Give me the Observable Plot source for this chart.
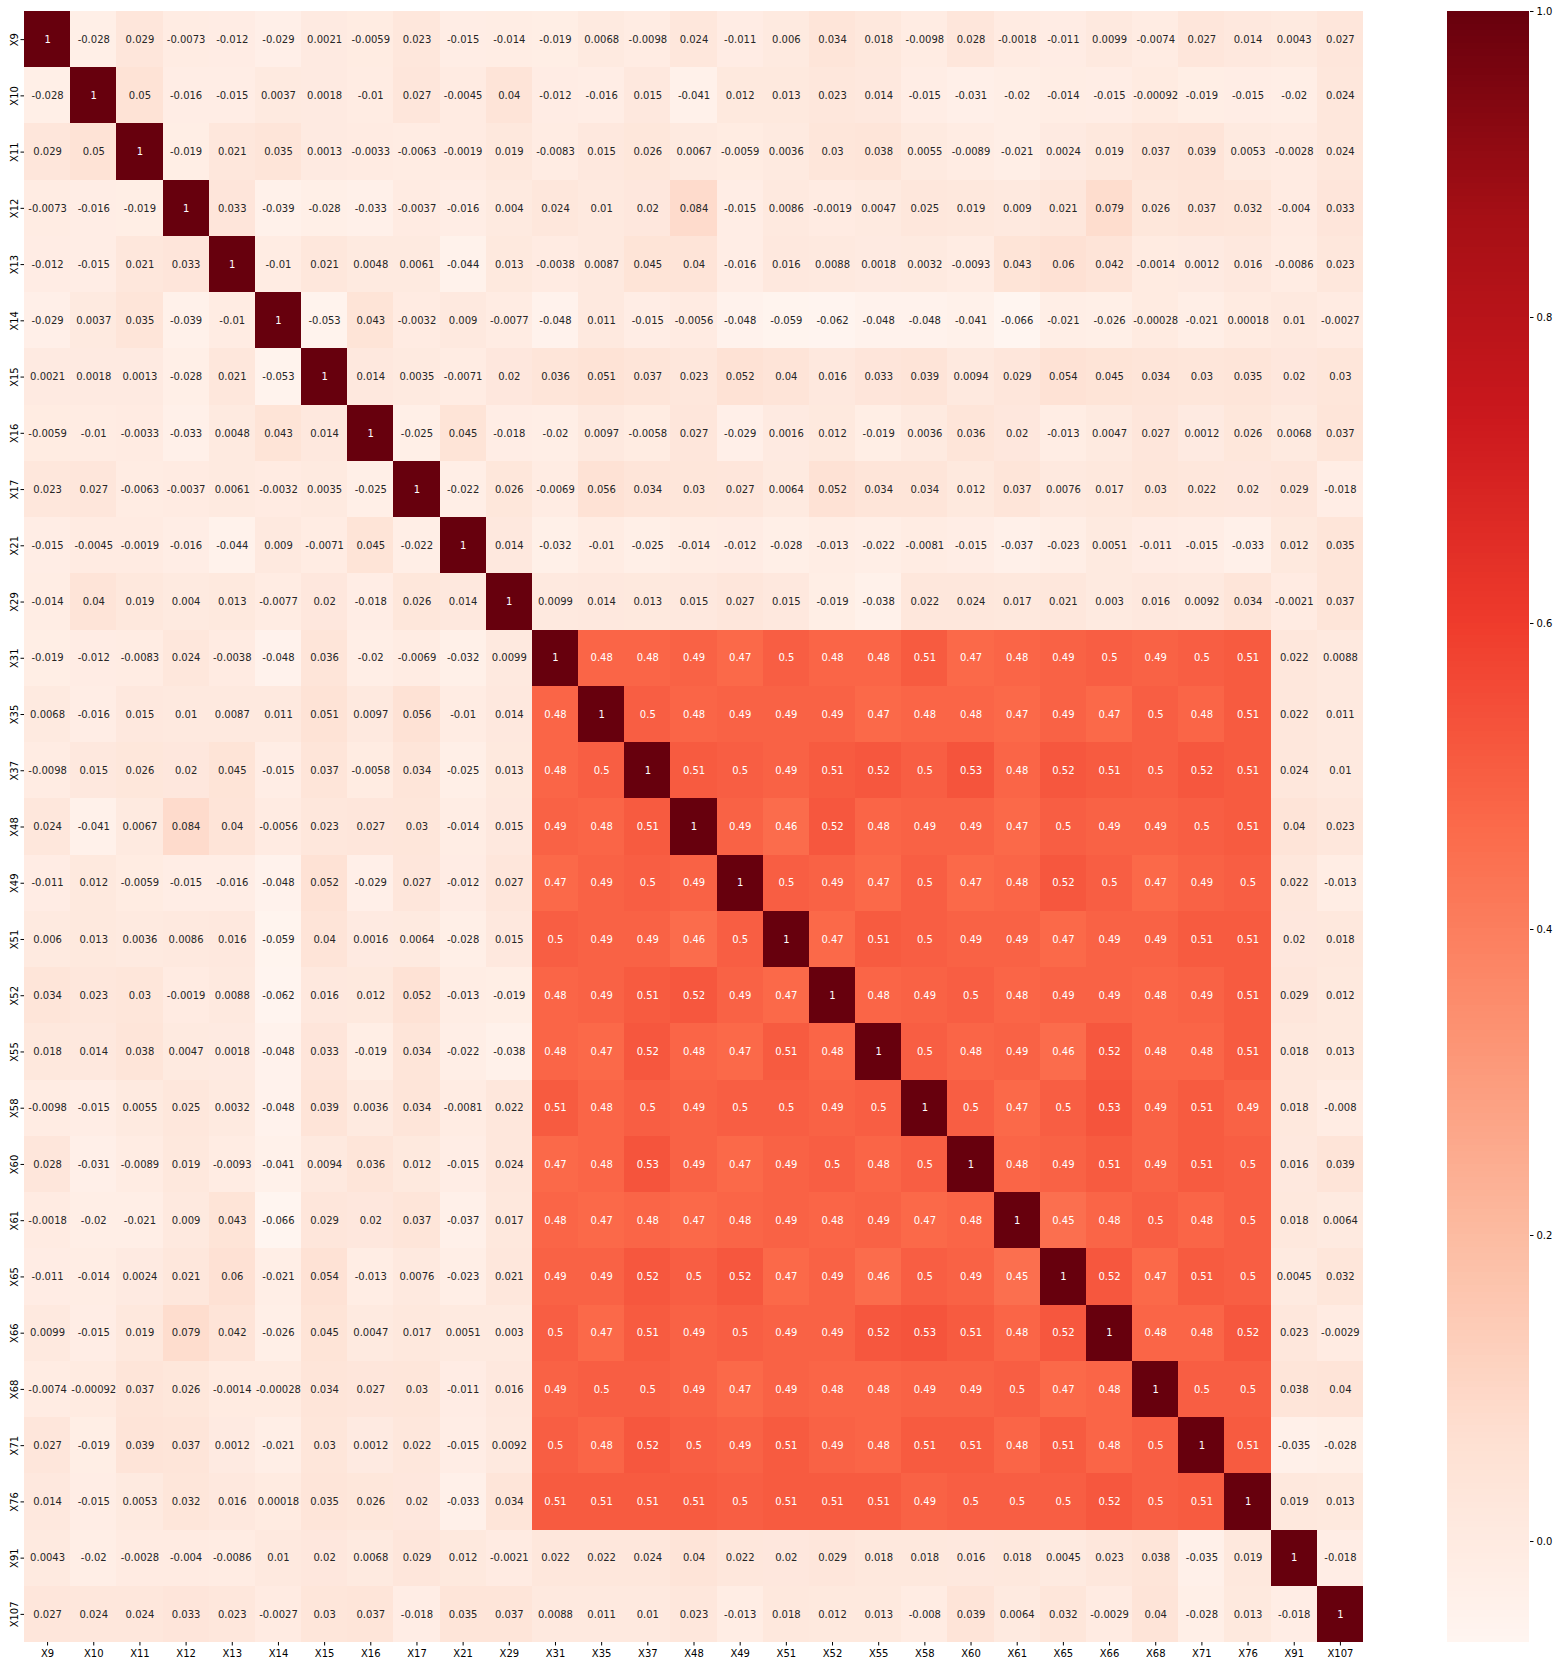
<!DOCTYPE html>
<html><head><meta charset="utf-8">
<script src="https://cdn.jsdelivr.net/npm/d3@7"></script>
<script src="https://cdn.jsdelivr.net/npm/@observablehq/plot@0.6"></script>
<style>
body{margin:0;background:#fff;}
#wrap{position:relative;width:1558px;height:1666px;}
#wrap svg{position:absolute;top:0;}
</style></head><body><div id="wrap"></div>
<script>
const variables = ["X9","X10","X11","X12","X13","X14","X15","X16","X17","X21","X29","X31","X35","X37","X48","X49","X51","X52","X55","X58","X60","X61","X65","X66","X68","X71","X76","X91","X107"];

const rowX9   = [1,-0.028,0.029,-0.0073,-0.012,-0.029,0.0021,-0.0059,0.023,-0.015,-0.014,-0.019,0.0068,-0.0098,0.024,-0.011,0.006,0.034,0.018,-0.0098,0.028,-0.0018,-0.011,0.0099,-0.0074,0.027,0.014,0.0043,0.027];
const rowX10  = [-0.028,1,0.05,-0.016,-0.015,0.0037,0.0018,-0.01,0.027,-0.0045,0.04,-0.012,-0.016,0.015,-0.041,0.012,0.013,0.023,0.014,-0.015,-0.031,-0.02,-0.014,-0.015,-0.00092,-0.019,-0.015,-0.02,0.024];
const rowX11  = [0.029,0.05,1,-0.019,0.021,0.035,0.0013,-0.0033,-0.0063,-0.0019,0.019,-0.0083,0.015,0.026,0.0067,-0.0059,0.0036,0.03,0.038,0.0055,-0.0089,-0.021,0.0024,0.019,0.037,0.039,0.0053,-0.0028,0.024];
const rowX12  = [-0.0073,-0.016,-0.019,1,0.033,-0.039,-0.028,-0.033,-0.0037,-0.016,0.004,0.024,0.01,0.02,0.084,-0.015,0.0086,-0.0019,0.0047,0.025,0.019,0.009,0.021,0.079,0.026,0.037,0.032,-0.004,0.033];
const rowX13  = [-0.012,-0.015,0.021,0.033,1,-0.01,0.021,0.0048,0.0061,-0.044,0.013,-0.0038,0.0087,0.045,0.04,-0.016,0.016,0.0088,0.0018,0.0032,-0.0093,0.043,0.06,0.042,-0.0014,0.0012,0.016,-0.0086,0.023];
const rowX14  = [-0.029,0.0037,0.035,-0.039,-0.01,1,-0.053,0.043,-0.0032,0.009,-0.0077,-0.048,0.011,-0.015,-0.0056,-0.048,-0.059,-0.062,-0.048,-0.048,-0.041,-0.066,-0.021,-0.026,-0.00028,-0.021,0.00018,0.01,-0.0027];
const rowX15  = [0.0021,0.0018,0.0013,-0.028,0.021,-0.053,1,0.014,0.0035,-0.0071,0.02,0.036,0.051,0.037,0.023,0.052,0.04,0.016,0.033,0.039,0.0094,0.029,0.054,0.045,0.034,0.03,0.035,0.02,0.03];
const rowX16  = [-0.0059,-0.01,-0.0033,-0.033,0.0048,0.043,0.014,1,-0.025,0.045,-0.018,-0.02,0.0097,-0.0058,0.027,-0.029,0.0016,0.012,-0.019,0.0036,0.036,0.02,-0.013,0.0047,0.027,0.0012,0.026,0.0068,0.037];
const rowX17  = [0.023,0.027,-0.0063,-0.0037,0.0061,-0.0032,0.0035,-0.025,1,-0.022,0.026,-0.0069,0.056,0.034,0.03,0.027,0.0064,0.052,0.034,0.034,0.012,0.037,0.0076,0.017,0.03,0.022,0.02,0.029,-0.018];
const rowX21  = [-0.015,-0.0045,-0.0019,-0.016,-0.044,0.009,-0.0071,0.045,-0.022,1,0.014,-0.032,-0.01,-0.025,-0.014,-0.012,-0.028,-0.013,-0.022,-0.0081,-0.015,-0.037,-0.023,0.0051,-0.011,-0.015,-0.033,0.012,0.035];
const rowX29  = [-0.014,0.04,0.019,0.004,0.013,-0.0077,0.02,-0.018,0.026,0.014,1,0.0099,0.014,0.013,0.015,0.027,0.015,-0.019,-0.038,0.022,0.024,0.017,0.021,0.003,0.016,0.0092,0.034,-0.0021,0.037];
const rowX31  = [-0.019,-0.012,-0.0083,0.024,-0.0038,-0.048,0.036,-0.02,-0.0069,-0.032,0.0099,1,0.48,0.48,0.49,0.47,0.5,0.48,0.48,0.51,0.47,0.48,0.49,0.5,0.49,0.5,0.51,0.022,0.0088];
const rowX35  = [0.0068,-0.016,0.015,0.01,0.0087,0.011,0.051,0.0097,0.056,-0.01,0.014,0.48,1,0.5,0.48,0.49,0.49,0.49,0.47,0.48,0.48,0.47,0.49,0.47,0.5,0.48,0.51,0.022,0.011];
const rowX37  = [-0.0098,0.015,0.026,0.02,0.045,-0.015,0.037,-0.0058,0.034,-0.025,0.013,0.48,0.5,1,0.51,0.5,0.49,0.51,0.52,0.5,0.53,0.48,0.52,0.51,0.5,0.52,0.51,0.024,0.01];
const rowX48  = [0.024,-0.041,0.0067,0.084,0.04,-0.0056,0.023,0.027,0.03,-0.014,0.015,0.49,0.48,0.51,1,0.49,0.46,0.52,0.48,0.49,0.49,0.47,0.5,0.49,0.49,0.5,0.51,0.04,0.023];
const rowX49  = [-0.011,0.012,-0.0059,-0.015,-0.016,-0.048,0.052,-0.029,0.027,-0.012,0.027,0.47,0.49,0.5,0.49,1,0.5,0.49,0.47,0.5,0.47,0.48,0.52,0.5,0.47,0.49,0.5,0.022,-0.013];
const rowX51  = [0.006,0.013,0.0036,0.0086,0.016,-0.059,0.04,0.0016,0.0064,-0.028,0.015,0.5,0.49,0.49,0.46,0.5,1,0.47,0.51,0.5,0.49,0.49,0.47,0.49,0.49,0.51,0.51,0.02,0.018];
const rowX52  = [0.034,0.023,0.03,-0.0019,0.0088,-0.062,0.016,0.012,0.052,-0.013,-0.019,0.48,0.49,0.51,0.52,0.49,0.47,1,0.48,0.49,0.5,0.48,0.49,0.49,0.48,0.49,0.51,0.029,0.012];
const rowX55  = [0.018,0.014,0.038,0.0047,0.0018,-0.048,0.033,-0.019,0.034,-0.022,-0.038,0.48,0.47,0.52,0.48,0.47,0.51,0.48,1,0.5,0.48,0.49,0.46,0.52,0.48,0.48,0.51,0.018,0.013];
const rowX58  = [-0.0098,-0.015,0.0055,0.025,0.0032,-0.048,0.039,0.0036,0.034,-0.0081,0.022,0.51,0.48,0.5,0.49,0.5,0.5,0.49,0.5,1,0.5,0.47,0.5,0.53,0.49,0.51,0.49,0.018,-0.008];
const rowX60  = [0.028,-0.031,-0.0089,0.019,-0.0093,-0.041,0.0094,0.036,0.012,-0.015,0.024,0.47,0.48,0.53,0.49,0.47,0.49,0.5,0.48,0.5,1,0.48,0.49,0.51,0.49,0.51,0.5,0.016,0.039];
const rowX61  = [-0.0018,-0.02,-0.021,0.009,0.043,-0.066,0.029,0.02,0.037,-0.037,0.017,0.48,0.47,0.48,0.47,0.48,0.49,0.48,0.49,0.47,0.48,1,0.45,0.48,0.5,0.48,0.5,0.018,0.0064];
const rowX65  = [-0.011,-0.014,0.0024,0.021,0.06,-0.021,0.054,-0.013,0.0076,-0.023,0.021,0.49,0.49,0.52,0.5,0.52,0.47,0.49,0.46,0.5,0.49,0.45,1,0.52,0.47,0.51,0.5,0.0045,0.032];
const rowX66  = [0.0099,-0.015,0.019,0.079,0.042,-0.026,0.045,0.0047,0.017,0.0051,0.003,0.5,0.47,0.51,0.49,0.5,0.49,0.49,0.52,0.53,0.51,0.48,0.52,1,0.48,0.48,0.52,0.023,-0.0029];
const rowX68  = [-0.0074,-0.00092,0.037,0.026,-0.0014,-0.00028,0.034,0.027,0.03,-0.011,0.016,0.49,0.5,0.5,0.49,0.47,0.49,0.48,0.48,0.49,0.49,0.5,0.47,0.48,1,0.5,0.5,0.038,0.04];
const rowX71  = [0.027,-0.019,0.039,0.037,0.0012,-0.021,0.03,0.0012,0.022,-0.015,0.0092,0.5,0.48,0.52,0.5,0.49,0.51,0.49,0.48,0.51,0.51,0.48,0.51,0.48,0.5,1,0.51,-0.035,-0.028];
const rowX76  = [0.014,-0.015,0.0053,0.032,0.016,0.00018,0.035,0.026,0.02,-0.033,0.034,0.51,0.51,0.51,0.51,0.5,0.51,0.51,0.51,0.49,0.5,0.5,0.5,0.52,0.5,0.51,1,0.019,0.013];
const rowX91  = [0.0043,-0.02,-0.0028,-0.004,-0.0086,0.01,0.02,0.0068,0.029,0.012,-0.0021,0.022,0.022,0.024,0.04,0.022,0.02,0.029,0.018,0.018,0.016,0.018,0.0045,0.023,0.038,-0.035,0.019,1,-0.018];
const rowX107 = [0.027,0.024,0.024,0.033,0.023,-0.0027,0.03,0.037,-0.018,0.035,0.037,0.0088,0.011,0.01,0.023,-0.013,0.018,0.012,0.013,-0.008,0.039,0.0064,0.032,-0.0029,0.04,-0.028,0.013,-0.018,1];

const colorbarTicks = [0.0, 0.2, 0.4, 0.6, 0.8, 1.0];
const vmin = -0.066, vmax = 1;

const matrixRows = [rowX9,rowX10,rowX11,rowX12,rowX13,rowX14,rowX15,rowX16,rowX17,rowX21,rowX29,rowX31,rowX35,rowX37,rowX48,rowX49,rowX51,rowX52,rowX55,rowX58,rowX60,rowX61,rowX65,rowX66,rowX68,rowX71,rowX76,rowX91,rowX107];

// matplotlib "Reds" colormap anchors
const redsColors = ["#fff5f0","#fee0d2","#fcbba1","#fc9272","#fb6a4a","#ef3b2c","#cb181d","#a50f15","#67000d"];
const colorDomain = redsColors.map((_, i) => vmin + (vmax - vmin) * i / (redsColors.length - 1));
const colorOpts = {type: "linear", domain: colorDomain, range: redsColors, interpolate: "rgb", clamp: true};
const colorFn = d3.scaleLinear().domain(colorDomain).range(redsColors).interpolate(d3.interpolateRgb).clamp(true);
function luminance(c) {
  const {r, g, b} = d3.rgb(c);
  const f = v => { v /= 255; return v <= 0.03928 ? v / 12.92 : Math.pow((v + 0.055) / 1.055, 2.4); };
  return 0.2126 * f(r) + 0.7152 * f(g) + 0.0722 * f(b);
}

const cells = variables.flatMap((r, i) => variables.map((c, j) => ({row: r, col: c, value: matrixRows[i][j]})));
const isDark = d => luminance(colorFn(d.value)) <= 0.408;

const font = {fontFamily: "DejaVu Sans", fontSize: "10px", color: "#000", background: "transparent", overflow: "visible"};

const main = Plot.plot({
  width: 1558, height: 1666,
  marginLeft: 24, marginRight: 195, marginTop: 11, marginBottom: 24,
  style: font,
  x: {domain: variables, padding: 0, round: false, label: null},
  y: {domain: variables, padding: 0, round: false, label: null},
  color: colorOpts,
  marks: [
    Plot.cell(cells, {x: "col", y: "row", fill: "value", inset: 0, shapeRendering: "crispEdges"}),
    Plot.text(cells.filter(d => !isDark(d)), {x: "col", y: "row", text: d => String(d.value), fill: "#262626", fontSize: 10}),
    Plot.text(cells.filter(isDark), {x: "col", y: "row", text: d => String(d.value), fill: "#ffffff", fontSize: 10}),
    Plot.axisX({tickSize: 3.5, tickPadding: 3.5, fontSize: 10, label: null}),
    Plot.axisY({tickSize: 3.5, tickPadding: 3.5, tickRotate: -90, fontSize: 10, label: null})
  ]
});

// colorbar
const nSteps = 256;
const barSteps = d3.range(nSteps).map(i => ({
  y1: vmin + (vmax - vmin) * i / nSteps,
  y2: vmin + (vmax - vmin) * (i + 1) / nSteps,
  v: vmin + (vmax - vmin) * (i + 0.5) / nSteps
}));
const bar = Plot.plot({
  width: 111, height: 1666,
  marginLeft: 0, marginRight: 29, marginTop: 11, marginBottom: 24,
  style: font,
  x: {domain: [0, 1], axis: null},
  y: {domain: [vmin, vmax], label: null, axis: null},
  color: colorOpts,
  marks: [
    Plot.rect(barSteps, {x1: 0, x2: 1, y1: "y1", y2: "y2", fill: "v", inset: 0, shapeRendering: "crispEdges"}),
    Plot.axisY({anchor: "right", ticks: colorbarTicks, tickFormat: d3.format(".1f"), tickSize: 3.5, tickPadding: 3.5, fontSize: 10, label: null})
  ]
});

const wrap = document.getElementById("wrap");
main.style.left = "0px";
bar.style.left = "1447px";
wrap.appendChild(main);
wrap.appendChild(bar);
</script>
</body></html>
